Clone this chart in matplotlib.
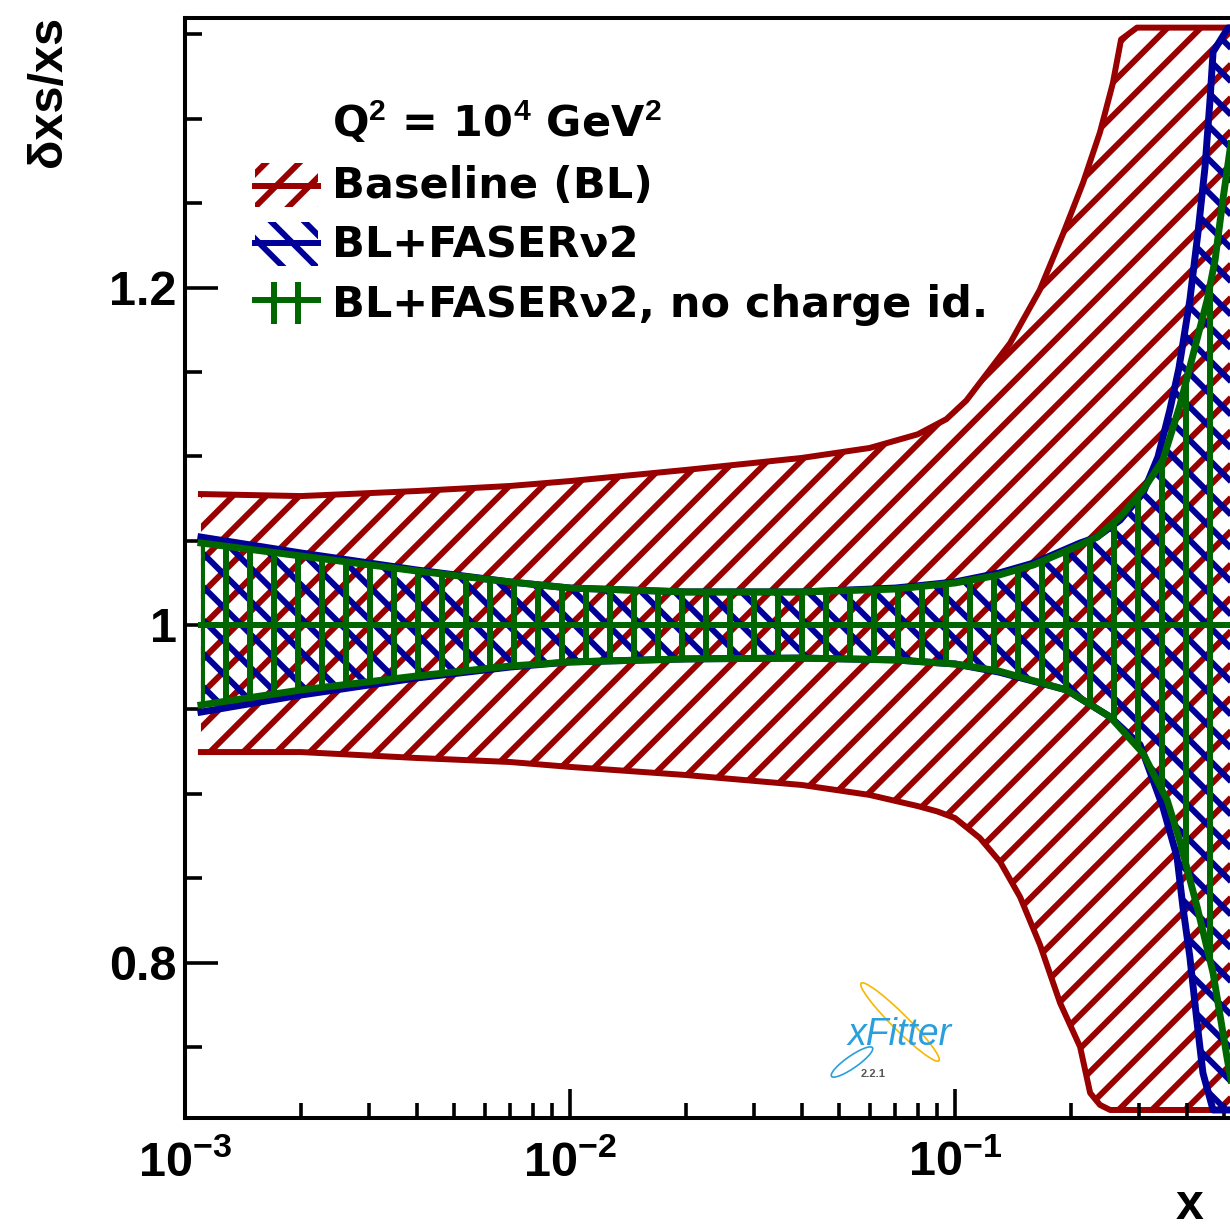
import numpy as np
import matplotlib
matplotlib.use("Agg")
import matplotlib.pyplot as plt
import matplotlib.ticker as mticker
from matplotlib.collections import LineCollection
from matplotlib.patches import Polygon, Rectangle, Arc
from matplotlib.transforms import IdentityTransform

# ---------------- data ----------------
bl_up_x = [0.0011, 0.002, 0.004, 0.007, 0.01, 0.02, 0.04, 0.06, 0.08, 0.095, 0.107,
           0.139, 0.166, 0.191, 0.215, 0.238, 0.257, 0.270, 0.297, 0.6]
bl_up_y = [1.0776, 1.0764, 1.0794, 1.0824, 1.0853, 1.0919, 1.099, 1.1049, 1.113, 1.122, 1.133,
           1.167, 1.1985, 1.232, 1.262, 1.292, 1.321, 1.347, 1.354, 1.354]
bl_lo_x = [0.0011, 0.002, 0.004, 0.007, 0.01, 0.02, 0.04, 0.06, 0.08, 0.09, 0.1, 0.116, 0.131,
           0.1476, 0.1663, 0.1875, 0.2113, 0.2244, 0.238, 0.253, 0.6]
bl_lo_y = [0.9247, 0.9247, 0.9212, 0.9188, 0.9159, 0.9111, 0.9052, 0.8993, 0.8927, 0.8895, 0.8856, 0.8738, 0.8596,
           0.8388, 0.8104, 0.776, 0.75, 0.7227, 0.7156, 0.7126, 0.7126]

fa_up_x = [0.0011, 0.002, 0.004, 0.007, 0.01, 0.02, 0.04, 0.07, 0.1, 0.13, 0.16, 0.2113, 0.2339,
           0.2685, 0.3079, 0.3366, 0.3614, 0.3815, 0.4074, 0.4276, 0.4461, 0.4596, 0.4681, 0.5117, 0.6]
fa_up_y = [1.0521, 1.0427, 1.0326, 1.0255, 1.0219, 1.0196, 1.0196, 1.0219, 1.0255, 1.0308, 1.0367, 1.0486, 1.0521,
           1.0622, 1.0782, 1.0996, 1.1274, 1.152, 1.1926, 1.2323, 1.2714, 1.3111, 1.3396, 1.3538, 1.3538]
fa_lo_x = [0.0011, 0.002, 0.004, 0.007, 0.01, 0.02, 0.04, 0.07, 0.1, 0.13, 0.195, 0.253, 0.3026,
           0.3467, 0.3773, 0.3908, 0.4074, 0.4255, 0.4406, 0.4681, 0.6]
fa_lo_y = [0.9484, 0.9585, 0.9686, 0.9751, 0.9781, 0.9799, 0.9804, 0.9793, 0.9769, 0.9721, 0.9615, 0.9455, 0.929,
           0.8921, 0.8625, 0.8329, 0.8033, 0.7641, 0.7345, 0.7126, 0.7126]

nc_up_x = [0.0011, 0.002, 0.004, 0.007, 0.01, 0.02, 0.04, 0.07, 0.1, 0.13, 0.16, 0.2113, 0.2339,
           0.2685, 0.3079, 0.3467, 0.3837, 0.4074, 0.4519, 0.4737, 0.4963, 0.518, 0.56]
nc_up_y = [1.0486, 1.0409, 1.032, 1.0255, 1.0219, 1.0196, 1.0196, 1.0213, 1.0249, 1.0296, 1.0356, 1.0474, 1.0521,
           1.064, 1.08, 1.0978, 1.130, 1.1529, 1.1926, 1.2163, 1.2519, 1.2815, 1.33]
nc_lo_x = [0.0011, 0.002, 0.004, 0.007, 0.01, 0.02, 0.04, 0.07, 0.1, 0.13, 0.195, 0.253, 0.3079,
           0.3268, 0.3556, 0.383, 0.4255, 0.4681, 0.5085, 0.56]
nc_lo_y = [0.9526, 0.9615, 0.9698, 0.9757, 0.9781, 0.9799, 0.9804, 0.9793, 0.9769, 0.9727, 0.9615, 0.9455, 0.924,
           0.9123, 0.8963, 0.8726, 0.8329, 0.7938, 0.744, 0.69]

central_x = [0.0011, 0.6]
central_y = [1.0, 1.0]

series_labels = ["Baseline (BL)", "BL+FASER\u03bd2", "BL+FASER\u03bd2, no charge id."]
x_ticks = [1e-3, 1e-2, 1e-1]
x_tick_labels = [r"$\mathbf{10^{-3}}$", r"$\mathbf{10^{-2}}$", r"$\mathbf{10^{-1}}$"]
y_ticks = [0.8, 1.0, 1.2]
y_tick_labels = ["0.8", "1", "1.2"]

# ---------------- styling ----------------
plt.rcParams["font.family"] = ["Liberation Sans", "DejaVu Sans"]
plt.rcParams["font.weight"] = "bold"
plt.rcParams["mathtext.fontset"] = "custom"
plt.rcParams["mathtext.bf"] = "Liberation Sans:bold"
plt.rcParams["mathtext.rm"] = "Liberation Sans:bold"
plt.rcParams["mathtext.default"] = "bf"

RED = "#990000"
BLUE = "#000099"
GREEN = "#006600"

W, H, DPI = 1230, 1227, 100
fig = plt.figure(figsize=(W / DPI, H / DPI), dpi=DPI)
AX_L, AX_R, AX_T, AX_B = 185, 1230, 18, 1118
ax = fig.add_axes([AX_L / W, 1 - AX_B / H, (AX_R - AX_L) / W, (AX_B - AX_T) / H])
ax.set_xscale("log")
DEC = 385.0      # px per decade
UNIT = 1687.5    # px per unit y
Y1PX = 625
ax.set_xlim(1e-3, 10 ** (-3 + (AX_R - AX_L) / DEC))
ax.set_ylim(1 - (AX_B - Y1PX) / UNIT, 1 + (Y1PX - AX_T) / UNIT)


def hatch_segments(kind, spacing, phase):
    segs = []
    if kind == "/":
        c = phase - np.ceil((phase + H) / spacing) * spacing
        while c < W:
            segs.append([(c, 0), (c + H, H)])
            c += spacing
    elif kind == "\\":
        c = phase - np.ceil(phase / spacing) * spacing
        while c < W + H:
            segs.append([(c, 0), (c - H, H)])
            c += spacing
    else:
        c = phase - np.ceil(phase / spacing) * spacing
        while c < W:
            segs.append([(c, 0), (c, H)])
            c += spacing
    return segs


HATCH = {"/": (33.33, -165.0), "\\": (33.33, 10.0), "|": (24.0, 201.7)}
LW_H = 4.3


def add_hatch(clip_patch, kind, color, z):
    sp, ph = HATCH[kind]
    lc = LineCollection(hatch_segments(kind, sp, ph), colors=color, linewidths=LW_H,
                        transform=IdentityTransform(), capstyle="butt", zorder=z)
    ax.add_collection(lc, autolim=False)
    lc.set_clip_path(clip_patch)


def band(xu, yu, xl, yl, color, kind, z, lw):
    verts = list(zip(xu, yu)) + list(zip(xl[::-1], yl[::-1]))
    poly = Polygon(verts, closed=True, transform=ax.transData, fill=False,
                   edgecolor="none", zorder=z)
    ax.add_patch(poly)
    add_hatch(poly, kind, color, z)
    ax.plot(xu, yu, color=color, lw=lw, zorder=z + 0.5, solid_joinstyle="round")
    ax.plot(xl, yl, color=color, lw=lw, zorder=z + 0.5, solid_joinstyle="round")
    ax.plot(central_x, central_y, color=color, lw=4.3, zorder=z + 0.6)


band(bl_up_x, bl_up_y, bl_lo_x, bl_lo_y, RED, "/", 1, 4.3)
band(fa_up_x, fa_up_y, fa_lo_x, fa_lo_y, BLUE, "\\", 3, 5.0)
band(nc_up_x, nc_up_y, nc_lo_x, nc_lo_y, GREEN, "|", 5, 5.0)

# ---------------- axes ----------------
ax.spines["right"].set_visible(False)
for s in ["left", "bottom", "top"]:
    ax.spines[s].set_linewidth(2.9)
    ax.spines[s].set_zorder(10)

ax.xaxis.set_major_locator(mticker.FixedLocator(x_ticks))
ax.xaxis.set_major_formatter(mticker.FixedFormatter(x_tick_labels))
ax.xaxis.set_minor_locator(mticker.LogLocator(base=10, subs=np.arange(2, 10)))
ax.xaxis.set_minor_formatter(mticker.NullFormatter())
ax.yaxis.set_major_locator(mticker.FixedLocator(y_ticks))
ax.yaxis.set_major_formatter(mticker.FixedFormatter(y_tick_labels))
ax.yaxis.set_minor_locator(mticker.MultipleLocator(0.05))

ax.tick_params(axis="both", which="both", direction="in", top=False, right=False, width=2.6)
ax.tick_params(axis="x", which="major", length=21, pad=16, labelsize=35)
ax.tick_params(axis="x", which="minor", length=11)
ax.tick_params(axis="y", which="major", length=24, pad=6, labelsize=35)
ax.tick_params(axis="y", which="minor", length=12)

fig.text(48 / W, 1 - 16 / H, "\u03b4xs/xs", rotation=90, ha="center", va="top",
         fontsize=35, fontweight="bold")
fig.text(1190 / W, 1 - 1219 / H, "x", ha="center", va="baseline", fontsize=36, fontweight="bold")

# ---------------- legend ----------------
LEG_FONT = 31
LEG_FAM = ["DejaVu Sans"]
fig.text(332 / W, 1 - 137 / H, r"Q$^{2}$ = 10$^{4}$ GeV$^{2}$", ha="left", va="baseline",
         fontsize=LEG_FONT, fontweight="bold", family=LEG_FAM)
leg_rows = [(series_labels[0], RED, "/", 198, 163, 207, 186),
            (series_labels[1], BLUE, "\\", 257, 222, 266, 243),
            (series_labels[2], GREEN, "|", 317, 282, 324, 300)]
for i, (lab, col, kind, base, top, bot, mid) in enumerate(leg_rows):
    fig.text(332 / W, 1 - base / H, lab, ha="left", va="baseline",
             fontsize=LEG_FONT, fontweight="bold", family=LEG_FAM)
    rect = Rectangle((255, H - bot), 63, bot - top, transform=IdentityTransform(),
                     fill=False, edgecolor="none")
    ax.add_patch(rect)
    rect.set_clip_on(False)
    add_hatch(rect, kind, col, 20)
    ax.add_line(plt.Line2D([255, 318], [H - mid, H - mid], transform=IdentityTransform(),
                           color=col, lw=4.3, zorder=21))

# ---------------- xFitter logo ----------------
fig.text(900 / W, 1 - 1035 / H, "xFitter", ha="center", va="center", fontsize=27,
         fontstyle="italic", fontweight="normal", color="#2a9fdc", zorder=30)
fig.text(873 / W, 1 - 1074 / H, "2.2.1", ha="center", va="center", fontsize=8,
         color="#555555")
fig.patches.append(Arc((900 / W, 1 - 1022 / H), 110 / W, 16 / H, angle=-45,
                       transform=fig.transFigure, color="#f5b800", lw=1.2))
fig.patches.append(Arc((852 / W, 1 - 1062 / H), 50 / W, 12 / H, angle=35,
                       transform=fig.transFigure, color="#2a9fdc", lw=1.2))

fig.savefig("out.png", dpi=DPI)
